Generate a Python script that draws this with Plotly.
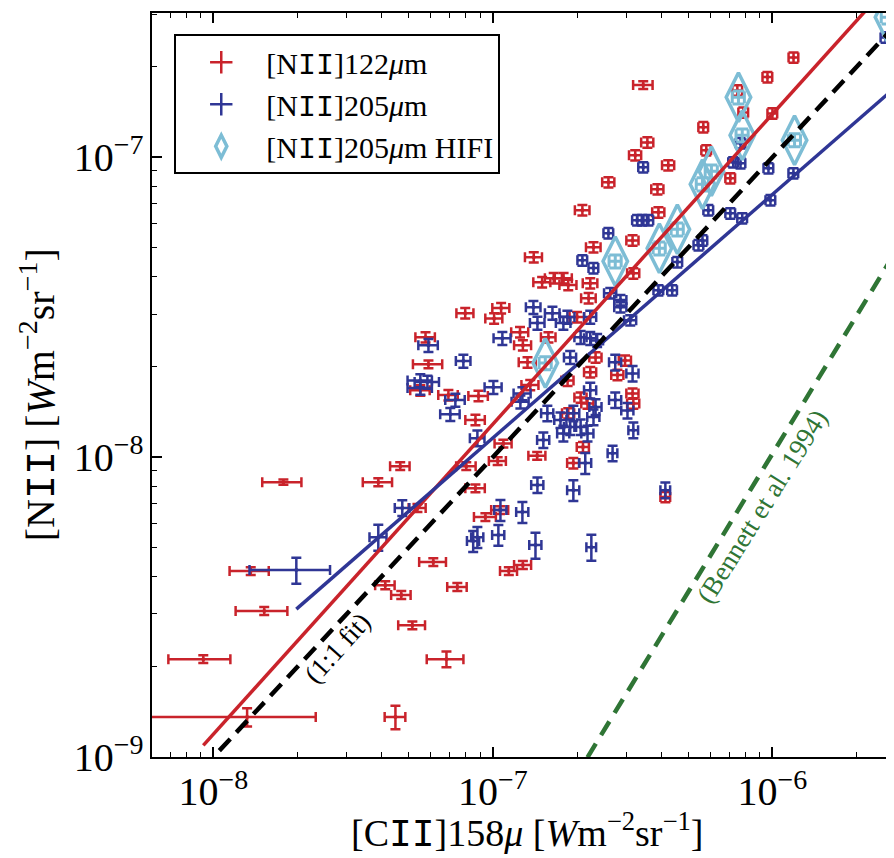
import plotly.graph_objects as go
import numpy as np

# ---------------- data ----------------
# [NII]122um (red) : [CII]158 intensity, [NII] intensity, relative errors
red_cii = [1.78e-8, 1.36e-8, 1.52e-8, 9.2e-9, 1.32e-8, 4.48e-8, 6.82e-8, 5.15e-8, 6.12e-8, 4.12e-8,
           4.7e-8, 7.46e-8, 1.14e-7, 1.28e-7, 9.4e-8, 1.06e-7, 5.37e-8, 3.89e-8, 4.66e-8, 8.03e-8,
           8.66e-8, 1.04e-7, 1.09e-7, 1.44e-7, 8.66e-8, 8.88e-8, 6.93e-8, 5.5e-8, 5.88e-8, 5.74e-8,
           7.96e-8, 1.01e-7, 1.07e-7, 1.25e-7, 1.28e-7, 1.33e-7, 1.36e-7, 1.40e-7, 1.50e-7, 1.65e-7,
           1.79e-7, 1.86e-7, 2.09e-7, 2.29e-7, 2.23e-7, 2.2e-7, 2.0e-7, 1.58e-7, 2.33e-7, 2.23e-7,
           1.85e-7, 2.97e-7, 2.79e-7, 2.06e-7, 2.18e-7, 3.16e-7, 3.18e-7, 1.86e-7, 2.1e-7, 1.94e-7,
           4.14e-7, 3.91e-7, 3.16e-7, 3.18e-7, 2.59e-7, 3.88e-7, 3.23e-7, 3.57e-7, 4.24e-7, 3.45e-7,
           5.66e-7, 5.8e-7, 7.07e-7, 7.49e-7, 7.87e-7, 1.0e-6, 9.6e-7, 1.19e-6]
red_nii = [8.25e-9, 4.17e-9, 3.07e-9, 2.12e-9, 1.36e-9, 1.36e-9, 2.12e-9, 2.75e-9, 4.47e-9, 3.74e-9,
           3.47e-9, 3.69e-9, 4.17e-9, 4.37e-9, 6.31e-9, 6.66e-9, 6.77e-9, 8.25e-9, 9.33e-9, 9.33e-9,
           7.87e-9, 9.7e-9, 1.11e-8, 1.01e-8, 1.33e-8, 1.6e-8, 1.61e-8, 1.67e-8, 2.04e-8, 2.51e-8,
           3.02e-8, 2.9e-8, 3.14e-8, 2.61e-8, 2.36e-8, 2.07e-8, 1.74e-8, 4.64e-8, 3.83e-8, 3.95e-8,
           3.95e-8, 3.75e-8, 6.66e-8, 5.01e-8, 3.8e-8, 3.39e-8, 2.93e-8, 2.51e-8, 2.15e-8, 1.92e-8,
           1.8e-8, 2.1e-8, 1.88e-8, 1.58e-8, 1.51e-8, 1.63e-8, 1.51e-8, 1.4e-8, 1.08e-8, 9.55e-9,
           7.36e-9, 6.55e-8, 5.28e-8, 4.1e-8, 8.25e-8, 7.82e-8, 1.015e-7, 1.12e-7, 9.4e-8, 1.74e-7,
           1.26e-7, 1.055e-7, 8.51e-8, 1.67e-7, 1.41e-7, 1.4e-7, 1.85e-7, 2.15e-7]
red_xerr_rel = [0.16, 0.16, 0.21, 0.25, 0.76, 0.085, 0.15, 0.11, 0.11, 0.08,
                0.08, 0.08, 0.07, 0.07, 0.09, 0.07, 0.07, 0.12, 0.08, 0.08,
                0.08, 0.07, 0.07, 0.07, 0.08, 0.08, 0.08, 0.08, 0.12, 0.08,
                0.07, 0.07, 0.07, 0.07, 0.07, 0.07, 0.07, 0.07, 0.07, 0.07,
                0.07, 0.07, 0.06, 0.06, 0.06, 0.06, 0.06, 0.06, 0.05, 0.05,
                0.05, 0.05, 0.05, 0.05, 0.05, 0.05, 0.05, 0.05, 0.05, 0.05,
                0.04, 0.05, 0.05, 0.05, 0.05, 0.05, 0.05, 0.05, 0.05, 0.08,
                0.04, 0.04, 0.04, 0.04, 0.04, 0.04, 0.04, 0.04]
red_yerr_rel = [0.02, 0.03, 0.03, 0.03, 0.07, 0.09, 0.06, 0.03, 0.03, 0.03,
                0.03, 0.03, 0.03, 0.03, 0.03, 0.03, 0.03, 0.03, 0.03, 0.03,
                0.03, 0.03, 0.03, 0.03, 0.04, 0.04, 0.04, 0.04, 0.03, 0.04,
                0.04, 0.04, 0.04, 0.04, 0.04, 0.04, 0.04, 0.04, 0.04, 0.04,
                0.04, 0.04, 0.04, 0.04, 0.04, 0.04, 0.04, 0.04, 0.04, 0.04,
                0.04, 0.04, 0.04, 0.04, 0.04, 0.04, 0.04, 0.04, 0.04, 0.04,
                0.04, 0.04, 0.04, 0.04, 0.04, 0.04, 0.04, 0.04, 0.04, 0.03,
                0.04, 0.04, 0.04, 0.04, 0.04, 0.04, 0.04, 0.04]

# [NII]205um (blue)
blue_cii = [1.98e-8, 3.89e-8, 4.74e-8, 8.5e-8, 8.8e-8, 1.046e-7, 1.064e-7, 1.275e-7, 1.42e-7, 2.25e-7,
            1.443e-7, 1.94e-7, 4.14e-7, 2.68e-7, 3.18e-7, 1.515e-7, 2.14e-7, 1.745e-7, 1.89e-7, 2.06e-7,
            1.787e-7, 2.18e-7, 1.94e-7, 2.29e-7, 1.566e-7, 2.23e-7, 2.33e-7, 2.74e-7, 3.03e-7, 2.74e-7,
            3.16e-7, 1.89e-7, 2.06e-7, 2.23e-7, 2.36e-7, 1.396e-7, 1.443e-7, 1.633e-7, 1.847e-7, 1.787e-7,
            2.23e-7, 2.63e-7, 2.86e-7, 2.86e-7, 3.1e-7, 2.09e-7, 2.29e-7, 2.59e-7, 3.28e-7, 3.42e-7,
            3.6e-7, 3.91e-7, 4.38e-7, 4.57e-7, 5.44e-7, 5.62e-7, 5.9e-7, 7.07e-7, 7.8e-7, 9.84e-7,
            9.68e-7, 1.189e-6, 7.24e-7, 7.69e-7, 7.69e-7, 3.45e-7, 2.54e-6, 5.5e-8, 5.83e-8, 5.5e-8,
            7.34e-8, 7.04e-8, 1.004e-7, 1.275e-7, 1.254e-7, 8.8e-8, 5.88e-8, 7.84e-8, 1.081e-7]
blue_nii = [4.2e-9, 5.41e-9, 6.77e-9, 5.25e-9, 5.41e-9, 5.5e-9, 6.66e-9, 6.56e-9, 5.09e-9, 5.01e-9,
            8.07e-9, 7.76e-9, 7.76e-9, 1.03e-8, 1.23e-8, 1.14e-8, 9.55e-9, 1.33e-8, 1.26e-8, 1.26e-8,
            1.2e-8, 1.2e-8, 1.4e-8, 1.36e-8, 1.4e-8, 1.67e-8, 1.47e-8, 1.55e-8, 1.43e-8, 2.07e-8,
            1.9e-8, 2.15e-8, 2.51e-8, 2.49e-8, 2.45e-8, 3.16e-8, 2.8e-8, 3.02e-8, 2.93e-8, 2.8e-8,
            2.93e-8, 3.52e-8, 3.34e-8, 3.16e-8, 2.86e-8, 4.53e-8, 4.27e-8, 5.58e-8, 6.17e-8, 6.17e-8,
            6.17e-8, 3.6e-8, 3.6e-8, 4.47e-8, 5.09e-8, 5.28e-8, 6.66e-8, 6.5e-8, 6.26e-8, 7.19e-8,
            9.19e-8, 8.84e-8, 9.62e-8, 9.55e-8, 1.114e-7, 9.26e-8, 2.51e-7, 1.8e-8, 1.78e-8, 1.7e-8,
            1.55e-8, 1.39e-8, 1.71e-8, 1.63e-8, 1.53e-8, 1.157e-8, 2.36e-8, 2.09e-8, 2.49e-8]
blue_xerr_rel = [0.32, 0.07, 0.06, 0.05, 0.05, 0.05, 0.05, 0.05, 0.05, 0.04,
                 0.05, 0.05, 0.04, 0.04, 0.04, 0.05, 0.05, 0.05, 0.05, 0.05,
                 0.05, 0.05, 0.05, 0.05, 0.05, 0.05, 0.05, 0.05, 0.05, 0.05,
                 0.05, 0.05, 0.05, 0.05, 0.05, 0.06, 0.06, 0.06, 0.06, 0.06,
                 0.05, 0.05, 0.05, 0.05, 0.05, 0.04, 0.04, 0.04, 0.04, 0.04,
                 0.04, 0.04, 0.04, 0.04, 0.04, 0.04, 0.04, 0.04, 0.04, 0.04,
                 0.04, 0.04, 0.04, 0.04, 0.04, 0.04, 0.04, 0.1, 0.1, 0.1,
                 0.08, 0.08, 0.07, 0.07, 0.07, 0.06, 0.08, 0.06, 0.07]
blue_yerr_rel = [0.1, 0.1, 0.06, 0.08, 0.08, 0.08, 0.08, 0.08, 0.1, 0.1,
                 0.06, 0.08, 0.06, 0.06, 0.06, 0.06, 0.08, 0.06, 0.06, 0.06,
                 0.06, 0.06, 0.06, 0.06, 0.06, 0.06, 0.06, 0.06, 0.06, 0.06,
                 0.06, 0.05, 0.05, 0.05, 0.05, 0.05, 0.05, 0.05, 0.05, 0.05,
                 0.05, 0.04, 0.04, 0.04, 0.04, 0.04, 0.04, 0.04, 0.04, 0.04,
                 0.04, 0.04, 0.04, 0.04, 0.04, 0.04, 0.04, 0.04, 0.04, 0.04,
                 0.04, 0.04, 0.04, 0.04, 0.04, 0.04, 0.04, 0.05, 0.05, 0.05,
                 0.05, 0.05, 0.05, 0.05, 0.05, 0.06, 0.05, 0.05, 0.05]

# [NII]205um HIFI (light blue diamonds)
hifi_cii = [1.54e-7, 2.74e-7, 3.94e-7, 4.57e-7, 5.62e-7, 6.05e-7, 7.56e-7, 7.8e-7, 1.2e-6, 2.58e-6]
hifi_nii = [2.06e-8, 4.5e-8, 4.97e-8, 5.75e-8, 8.13e-8, 8.98e-8, 1.585e-7, 1.184e-7, 1.14e-7, 2.93e-7]
hifi_err_rel = [0.05] * len(hifi_cii)

# fitted relations  log10(NII) = intercept + slope * log10(CII)
fit_122 = dict(slope=1.034, intercept=-0.652, xmin=9.2e-9, xmax=3.0e-6)
fit_205 = dict(slope=0.812, intercept=-2.252, xmin=1.98e-8, xmax=2.6e-6)
fit_11 = dict(slope=1.0, intercept=-1.0, xmin=1.05e-8, xmax=3.0e-6)
fit_bennett = dict(slope=1.53, intercept=1.191, xmin=2.18e-7, xmax=3.0e-6)

# ---------------- styling ----------------
RED = "#c9232b"
BLUE = "#2f3695"
CYAN = "#7dbdd5"
GREEN = "#2f7535"
FONT = "Liberation Serif"
II = '<span style="font-family:Liberation Mono">II</span>'


def rel(vals, fr):
    return [v * f for v, f in zip(vals, fr)]


def fit_line(p):
    xs = np.logspace(np.log10(p["xmin"]), np.log10(p["xmax"]), 50)
    ys = 10 ** (p["intercept"] + p["slope"] * np.log10(xs))
    return xs, ys


fig = go.Figure()

fig.add_trace(go.Scatter(
    x=red_cii, y=red_nii, mode="markers", showlegend=False,
    marker=dict(color=RED, size=4),
    error_x=dict(type="data", array=rel(red_cii, red_xerr_rel), color=RED, thickness=2.5, width=5),
    error_y=dict(type="data", array=rel(red_nii, red_yerr_rel), color=RED, thickness=2.5, width=5),
))
fig.add_trace(go.Scatter(
    x=blue_cii, y=blue_nii, mode="markers", showlegend=False,
    marker=dict(color=BLUE, size=4),
    error_x=dict(type="data", array=rel(blue_cii, blue_xerr_rel), color=BLUE, thickness=2.5, width=5),
    error_y=dict(type="data", array=rel(blue_nii, blue_yerr_rel), color=BLUE, thickness=2.5, width=5),
))
fig.add_trace(go.Scatter(
    x=hifi_cii, y=hifi_nii, mode="markers", showlegend=False,
    marker=dict(symbol="diamond-tall-open", color=CYAN, size=35, line=dict(color=CYAN, width=3.5)),
    error_x=dict(type="data", array=rel(hifi_cii, hifi_err_rel), color=CYAN, thickness=3, width=6),
    error_y=dict(type="data", array=rel(hifi_nii, hifi_err_rel), color=CYAN, thickness=3, width=6),
))

for p, col, dash, w in [(fit_122, RED, "solid", 3.5), (fit_205, BLUE, "solid", 3.5),
                        (fit_11, "black", "16px,9px", 4.5), (fit_bennett, GREEN, "16px,10px", 4.5)]:
    xs, ys = fit_line(p)
    fig.add_trace(go.Scatter(x=xs, y=ys, mode="lines", showlegend=False,
                             line=dict(color=col, width=w, dash=dash)))

# legend entries
fig.add_trace(go.Scatter(x=[None], y=[None], mode="markers", name="[N" + II + "]122<i>μ</i>m",
                         marker=dict(symbol="cross-thin-open", size=22, color=RED,
                                     line=dict(color=RED, width=2.5))))
fig.add_trace(go.Scatter(x=[None], y=[None], mode="markers", name="[N" + II + "]205<i>μ</i>m",
                         marker=dict(symbol="cross-thin-open", size=22, color=BLUE,
                                     line=dict(color=BLUE, width=2.5))))
fig.add_trace(go.Scatter(x=[None], y=[None], mode="markers", name="[N" + II + "]205<i>μ</i>m HIFI",
                         marker=dict(symbol="diamond-tall-open", size=22, color=CYAN,
                                     line=dict(color=CYAN, width=3.5))))

axis_common = dict(
    type="log", dtick=1, exponentformat="power", showgrid=False, zeroline=False,
    showline=True, linecolor="black", linewidth=2,
    ticks="inside", ticklen=10, tickwidth=1.5, tickcolor="black",
    minor=dict(ticks="inside", ticklen=5, tickwidth=1.2, tickcolor="black", dtick="D1", showgrid=False),
    tickfont=dict(family=FONT, size=32, color="black"),
)

# the page body has an 8px default margin: the figure is sized to fill the rest of the window
fig.update_layout(
    width=886, height=850,
    margin=dict(l=144, r=0, t=5, b=101),
    plot_bgcolor="white", paper_bgcolor="white",
    font=dict(family=FONT, color="black"),
    xaxis=dict(**axis_common, range=[-8.2197, -5.565], mirror="ticks"),
    yaxis=dict(**axis_common, range=[-9.0, -6.519], mirror=False),
    legend=dict(x=0.03, y=0.9714, xanchor="left", yanchor="top",
                bordercolor="black", borderwidth=2, bgcolor="white",
                font=dict(family=FONT, size=30, color="black"),
                itemwidth=80, tracegroupgap=0),
    annotations=[
        dict(text="[C" + II + "]158<i>μ</i> [<i>W</i>m<sup>−2</sup>sr<sup>−1</sup>]",
             xref="paper", yref="paper",
             x=0.5056, y=-0.1, xanchor="center", yanchor="middle", showarrow=False,
             font=dict(family=FONT, size=38)),
        dict(text="[N" + II + "] [<i>W</i>m<sup>−2</sup>sr<sup>−1</sup>]", xref="paper", yref="paper",
             x=-0.152, y=0.4864, xanchor="center", yanchor="middle", showarrow=False,
             textangle=-90, font=dict(family=FONT, size=40)),
        dict(text="(1:1 fit)", x=-7.556, y=-8.637, xref="x", yref="y", showarrow=False,
             textangle=-48, font=dict(family=FONT, size=27, color="black")),
        dict(text="(Bennett et al. 1994)", x=-6.0358, y=-8.163, xref="x", yref="y", showarrow=False,
             textangle=-58, font=dict(family=FONT, size=27, color=GREEN)),
    ],
)

fig.write_html("out.html")
